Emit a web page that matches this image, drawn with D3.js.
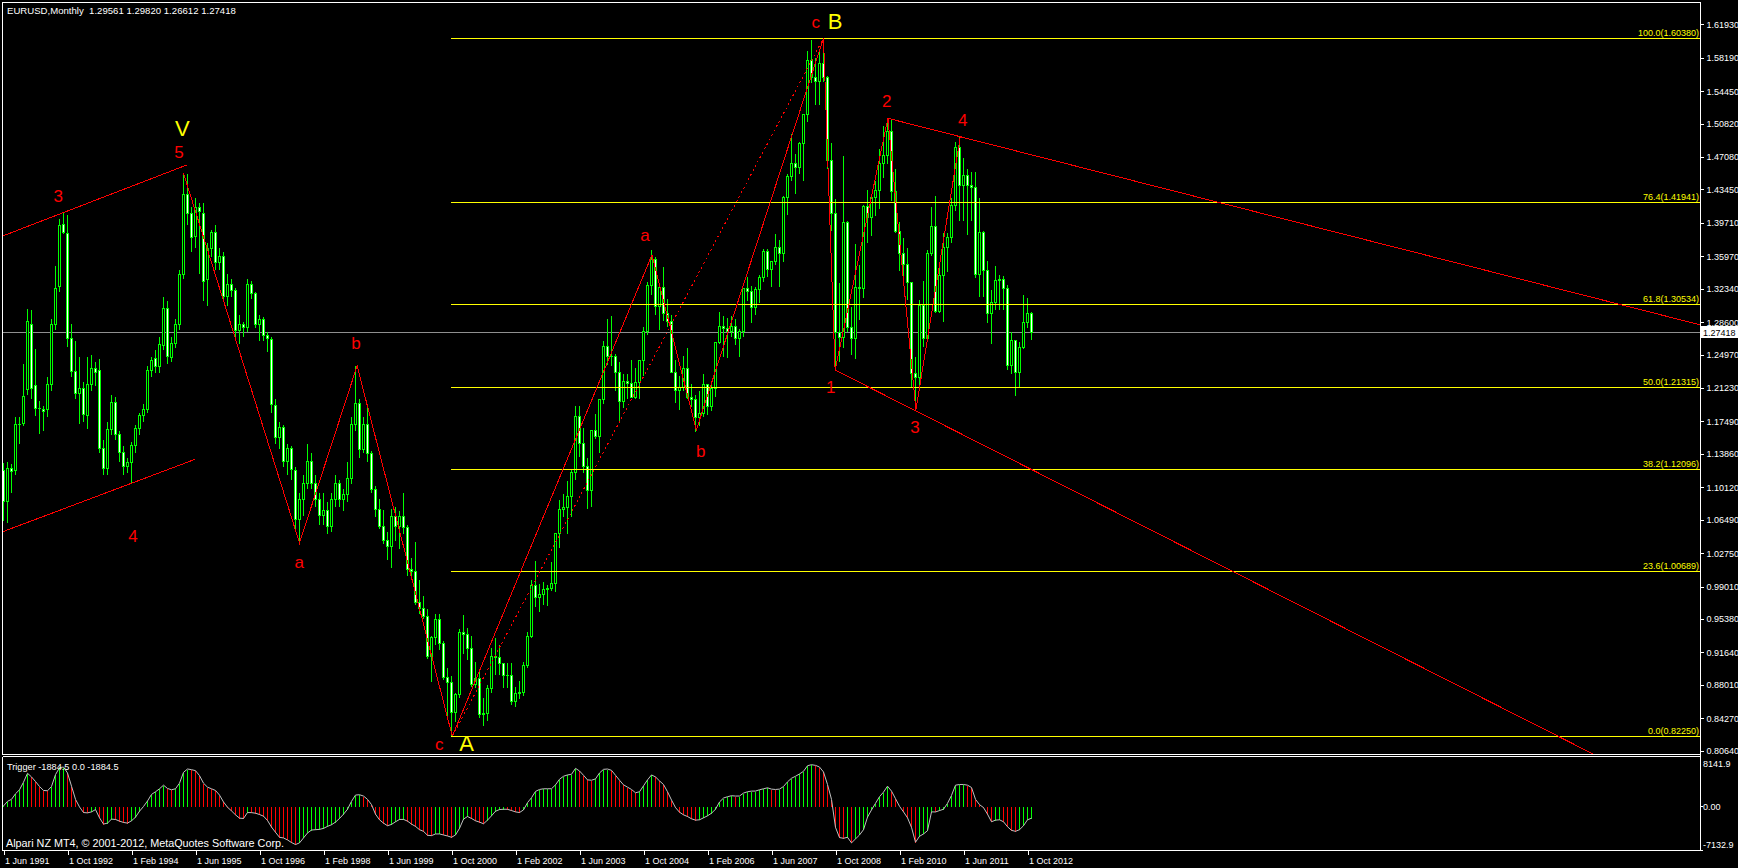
<!DOCTYPE html>
<html><head><meta charset="utf-8">
<script src="https://cdn.jsdelivr.net/npm/d3@7"></script>
<style>
html,body{margin:0;padding:0;background:#000;overflow:hidden}
svg{display:block}
text{font-family:"Liberation Sans",Arial,sans-serif}
</style></head><body>
<svg id="chart" width="1738" height="868"></svg>
<script>
// ---------------- DATA ----------------
const chartTitle = "EURUSD,Monthly  1.29561 1.29820 1.26612 1.27418";
const indicatorTitle = "Trigger -1884.5 0.0 -1884.5";
const brokerText = "Alpari NZ MT4, \u00A9 2001-2012, MetaQuotes Software Corp.";
const firstMonth = "1991-06"; // bar index 0 = Jun 1991, last bar = Nov 2012

const opens = [
1.1205,1.0850,1.1224,1.1200,1.1709,1.1728,1.2101,
1.2839,1.2149,1.1888,1.1880,1.1877,1.2164,1.2839,1.3257,1.3954,1.3854,1.2679,1.2305,
1.2063,1.2119,1.1813,1.2164,1.2336,1.2324,1.1448,1.1224,1.1653,1.1963,1.1597,1.1403,
1.1243,1.1291,1.1474,1.1672,1.1813,1.1877,1.2324,1.2448,1.2362,1.2604,1.3014,1.2466,
1.2623,1.2828,1.3395,1.4283,1.4078,1.3816,1.4141,1.4078,1.3332,1.3686,1.3865,1.3526,
1.3600,1.3145,1.3276,1.3212,1.2765,1.2839,1.2802,1.3283,1.3182,1.2839,1.2884,1.2716,
1.2668,1.1922,1.1571,1.1683,1.1299,1.1448,1.1205,1.0650,1.0870,1.1050,1.1300,1.1050,
1.0880,1.0700,1.0750,1.0570,1.0870,1.1050,1.0870,1.0930,1.1110,1.1710,1.1950,1.1440,
1.1710,1.1390,1.0990,1.0760,1.0570,1.0420,1.0350,1.0690,1.0570,1.0680,1.0560,1.0090,
1.0070,0.9720,0.9650,0.9570,0.9120,0.9330,0.9530,0.9260,0.8880,0.8830,0.8490,0.8690,
0.9390,0.9360,0.9210,0.8800,0.8870,0.8470,0.8480,0.8760,0.9120,0.9110,0.9040,0.8900,
0.8900,0.8610,0.8700,0.8720,0.9020,0.9340,0.9910,0.9780,0.9810,0.9870,0.9880,0.9930,
1.0490,1.0760,1.0790,1.0910,1.1180,1.1800,1.1500,1.1240,1.0980,1.1650,1.1580,1.1990,
1.2590,1.2470,1.2480,1.2300,1.1970,1.2200,1.2170,1.2020,1.2180,1.2430,1.2760,1.3270,
1.3560,1.3040,1.3250,1.2960,1.2870,1.2300,1.2100,1.2130,1.2340,1.2020,1.1990,1.1790,
1.1840,1.2160,1.1920,1.2120,1.2630,1.2810,1.2790,1.2760,1.2810,1.2680,1.2760,1.3240,
1.3200,1.3020,1.3230,1.3360,1.3650,1.3450,1.3540,1.3690,1.3630,1.4260,1.4490,1.4630,
1.4590,1.4860,1.5180,1.5790,1.5600,1.5550,1.5750,1.5600,1.4670,1.4080,1.2740,1.2690,
1.3970,1.2800,1.2680,1.3250,1.3240,1.4150,1.4030,1.4260,1.4330,1.4640,1.4720,1.4990,
1.4320,1.3870,1.3630,1.3510,1.3300,1.2280,1.2240,1.3050,1.2680,1.3630,1.3930,1.2980,
1.3380,1.3690,1.3810,1.4170,1.4810,1.4390,1.4500,1.4390,1.4370,1.3390,1.3860,1.3440,
1.2960,1.3080,1.3330,1.3340,1.3240,1.2370,1.2660,1.2300,1.2580,1.2860,1.29561];

const highs = [
1.1290,1.1300,1.1280,1.1802,1.1800,1.2399,1.3014,
1.3003,1.2560,1.1981,1.1930,1.2250,1.2900,1.3499,1.4022,1.4096,1.4059,1.2850,1.2660,
1.2481,1.2200,1.2474,1.2500,1.2420,1.2450,1.1550,1.1750,1.2050,1.2030,1.1650,1.1480,
1.1350,1.1520,1.1720,1.1850,1.1950,1.2380,1.2480,1.2550,1.2700,1.3150,1.3100,1.2700,
1.2900,1.3450,1.4525,1.4518,1.4150,1.4250,1.4200,1.4200,1.3750,1.3900,1.3950,1.3700,
1.3650,1.3400,1.3350,1.3250,1.2950,1.2870,1.3350,1.3330,1.3200,1.2950,1.2920,1.2750,
1.2700,1.2000,1.1750,1.1720,1.1500,1.1480,1.1250,1.0950,1.1150,1.1500,1.1400,1.1150,
1.0950,1.0950,1.0850,1.0950,1.1150,1.1100,1.1000,1.1300,1.1800,1.2371,1.2000,1.1800,
1.1900,1.1420,1.1030,1.0890,1.0760,1.0520,1.0780,1.0800,1.0750,1.0950,1.0600,1.0230,
1.0410,0.9980,0.9800,0.9650,0.9350,0.9600,0.9600,0.9300,0.9000,0.8900,0.8710,0.9430,
0.9590,0.9440,0.9350,0.9060,0.8970,0.8660,0.8800,0.9220,0.9330,0.9250,0.9050,0.9050,
0.9050,0.8780,0.8850,0.9060,0.9400,0.9980,1.0190,0.9930,0.9960,0.9920,1.0180,1.0500,
1.0880,1.0940,1.1090,1.1220,1.1930,1.1930,1.1680,1.1340,1.1660,1.1840,1.2000,1.2650,
1.2900,1.2930,1.2510,1.2420,1.2290,1.2290,1.2440,1.2350,1.2440,1.2810,1.3320,1.3670,
1.3590,1.3290,1.3480,1.3120,1.2940,1.2440,1.2260,1.2490,1.2580,1.2170,1.2050,1.2100,
1.2290,1.2170,1.2200,1.2640,1.2980,1.2930,1.2910,1.2930,1.2900,1.2790,1.3250,1.3370,
1.3270,1.3260,1.3390,1.3680,1.3680,1.3540,1.3850,1.3790,1.4280,1.4520,1.4970,1.4750,
1.4880,1.5200,1.5900,1.6020,1.5820,1.5910,1.6038,1.5620,1.4870,1.4240,1.3300,1.4720,
1.4000,1.3040,1.3740,1.3500,1.4180,1.4340,1.4300,1.4440,1.4800,1.5060,1.5144,1.5140,
1.4580,1.3990,1.3810,1.3690,1.3300,1.2470,1.3110,1.3330,1.3670,1.4150,1.4280,1.3500,
1.3860,1.3860,1.4250,1.4880,1.4940,1.4700,1.4580,1.4550,1.4550,1.4250,1.3880,1.3550,
1.3230,1.3490,1.3390,1.3380,1.3280,1.2750,1.2670,1.2640,1.3170,1.3140,1.29820];

const lows = [
1.0640,1.0620,1.0950,1.1150,1.1500,1.1700,1.2050,
1.2000,1.1817,1.1616,1.1650,1.1800,1.2100,1.2772,1.3200,1.3850,1.2586,1.2250,1.2000,
1.1728,1.1750,1.1672,1.2100,1.2150,1.1400,1.1150,1.1150,1.1600,1.1550,1.1300,1.1150,
1.1180,1.1056,1.1400,1.1600,1.1750,1.1850,1.2250,1.2300,1.2300,1.2550,1.2400,1.2420,
1.2580,1.2780,1.3350,1.3950,1.3650,1.3700,1.3400,1.3100,1.3050,1.3600,1.3450,1.3450,
1.3100,1.3050,1.3150,1.2700,1.2620,1.2700,1.2760,1.3120,1.2800,1.2650,1.2650,1.2530,
1.1850,1.1500,1.1450,1.1250,1.1150,1.1100,1.0550,1.0391,1.0700,1.1000,1.1000,1.0800,
1.0600,1.0600,1.0500,1.0520,1.0800,1.0800,1.0750,1.0850,1.1050,1.1650,1.1350,1.1400,
1.1300,1.0950,1.0680,1.0550,1.0380,1.0200,1.0110,1.0420,1.0330,1.0490,1.0020,1.0000,
0.9700,0.9600,0.9540,0.9100,0.8840,0.9250,0.9200,0.8860,0.8450,0.8225,0.8390,0.8660,
0.9150,0.9080,0.8780,0.8770,0.8440,0.8350,0.8400,0.8720,0.8920,0.8920,0.8770,0.8770,
0.8580,0.8560,0.8650,0.8680,0.9000,0.9330,0.9680,0.9620,0.9700,0.9690,0.9860,0.9850,
1.0340,1.0680,1.0500,1.0680,1.1100,1.1360,1.1180,1.0770,1.0800,1.1560,1.1400,1.1950,
1.2390,1.2370,1.2090,1.1760,1.1900,1.2000,1.2020,1.2000,1.2010,1.2260,1.2720,1.3170,
1.2950,1.2780,1.2880,1.2810,1.2300,1.1960,1.1880,1.2090,1.2000,1.1920,1.1640,1.1700,
1.1800,1.1830,1.1870,1.2030,1.2620,1.2480,1.2460,1.2700,1.2610,1.2480,1.2700,1.3100,
1.2860,1.2940,1.3080,1.3320,1.3370,1.3260,1.3500,1.3260,1.3540,1.4060,1.4440,1.4300,
1.4520,1.4440,1.5110,1.5540,1.5290,1.5300,1.5550,1.4580,1.3880,1.2330,1.2420,1.2580,
1.2760,1.2500,1.2450,1.2890,1.3140,1.3750,1.3830,1.4050,1.4130,1.4480,1.4640,1.4220,
1.3860,1.3440,1.3270,1.3110,1.2140,1.1876,1.2150,1.2590,1.2640,1.3610,1.2970,1.2970,
1.2870,1.3430,1.3750,1.4110,1.4000,1.4000,1.3840,1.4000,1.3360,1.3150,1.3150,1.2860,
1.2620,1.3000,1.3000,1.3000,1.2330,1.2280,1.2042,1.2130,1.2560,1.2800,1.26612];

const closes = [
1.0850,1.1224,1.1187,1.1709,1.1716,1.2026,1.2865,
1.2119,1.1888,1.1895,1.1858,1.2164,1.2839,1.3238,1.3947,1.3861,1.2679,1.2305,1.2063,
1.2119,1.1821,1.2164,1.2343,1.2298,1.1448,1.1224,1.1653,1.1963,1.1597,1.1399,1.1243,
1.1291,1.1474,1.1672,1.1813,1.1877,1.2324,1.2436,1.2362,1.2612,1.3014,1.2474,1.2623,
1.2828,1.3395,1.4283,1.4078,1.3809,1.4141,1.4096,1.3313,1.3686,1.3865,1.3526,1.3600,
1.3145,1.3276,1.3212,1.2765,1.2839,1.2802,1.3283,1.3182,1.2839,1.2884,1.2705,1.2679,
1.1940,1.1571,1.1683,1.1299,1.1448,1.1213,1.0650,1.0870,1.1050,1.1300,1.1050,1.0880,
1.0700,1.0750,1.0570,1.0870,1.1050,1.0870,1.0930,1.1110,1.1710,1.1950,1.1440,1.1710,
1.1390,1.0990,1.0760,1.0570,1.0420,1.0350,1.0690,1.0570,1.0680,1.0560,1.0090,1.0070,
0.9720,0.9650,0.9570,0.9120,0.9330,0.9530,0.9260,0.8880,0.8830,0.8490,0.8690,0.9390,
0.9360,0.9210,0.8800,0.8870,0.8470,0.8480,0.8760,0.9120,0.9110,0.9040,0.8900,0.8900,
0.8610,0.8700,0.8720,0.9020,0.9340,0.9910,0.9780,0.9810,0.9870,0.9880,0.9930,1.0490,
1.0760,1.0790,1.0910,1.1180,1.1800,1.1500,1.1240,1.0980,1.1650,1.1580,1.1990,1.2590,
1.2470,1.2480,1.2300,1.1970,1.2200,1.2170,1.2020,1.2180,1.2430,1.2760,1.3270,1.3560,
1.3040,1.3250,1.2960,1.2870,1.2300,1.2100,1.2130,1.2340,1.2020,1.1990,1.1790,1.1840,
1.2160,1.1920,1.2120,1.2630,1.2810,1.2790,1.2760,1.2810,1.2680,1.2760,1.3240,1.3200,
1.3020,1.3230,1.3360,1.3650,1.3450,1.3540,1.3690,1.3630,1.4260,1.4490,1.4630,1.4590,
1.4860,1.5180,1.5790,1.5600,1.5550,1.5750,1.5600,1.4670,1.4080,1.2740,1.2690,1.3970,
1.2800,1.2680,1.3250,1.3240,1.4150,1.4030,1.4260,1.4330,1.4640,1.4720,1.4990,1.4320,
1.3870,1.3630,1.3510,1.3300,1.2280,1.2240,1.3050,1.2680,1.3630,1.3930,1.2980,1.3380,
1.3690,1.3810,1.4170,1.4810,1.4390,1.4500,1.4390,1.4370,1.3390,1.3860,1.3440,1.2960,
1.3080,1.3330,1.3340,1.3240,1.2370,1.2660,1.2300,1.2580,1.2860,1.29561,1.27418];

// "Trigger" oscillator, one value per monthly bar
const trigger = [
107,858,1179,2090,2734,3966,5414,
4824,4074,3270,2626,2573,3270,5199,6325,6432,5467,3323,1179,
-54,-965,-1018,-858,-482,-1822,-2841,-2680,-2037,-2090,-2358,-2573,
-2680,-2305,-1715,-750,20,911,1983,2412,2894,3484,2948,2734,
2894,3806,5574,6110,6003,5842,5038,3806,3162,2894,2626,1876,
750,-107,-697,-1340,-1876,-1930,-965,-980,-1072,-1286,-1554,-2251,
-3323,-4181,-4985,-5092,-5414,-5842,-6164,-5896,-5092,-4288,-3806,-3752,
-3698,-3538,-3216,-2948,-2519,-1930,-1233,-429,858,1876,1930,1715,
1179,322,-1233,-2144,-2680,-3109,-2894,-2466,-2090,-2080,-2358,-2841,
-3216,-3752,-4020,-4663,-4717,-4449,-4440,-4610,-4770,-4985,-4610,-3538,
-2037,-1608,-1930,-2305,-2519,-2787,-2198,-1501,-750,-482,-429,-440,
-643,-858,-965,-536,643,1447,2466,2787,2894,2900,2905,3538,
4449,4931,5146,5253,6218,5789,5092,4342,4288,4502,5467,6057,
6110,5896,5092,4288,3538,3162,2787,2251,2412,3377,4342,5146,
4824,4181,3591,2412,1072,-161,-911,-1340,-1608,-1983,-2198,-2144,
-1822,-1501,-1072,-429,750,1394,1608,1769,1715,1720,2198,2412,
2519,2525,2734,2894,3055,2841,2787,2841,3270,4020,4610,4931,
5306,5735,6646,6807,6700,6432,5628,3591,1179,-3377,-5038,-5146,
-4985,-5896,-5253,-4610,-3752,-1715,-536,536,1608,2358,3323,2519,
1286,54,-858,-1822,-3377,-5789,-4824,-4449,-3913,-858,-870,-643,
-429,536,1822,3484,3591,3595,3484,3109,1179,322,-161,-1233,
-2466,-2198,-2144,-2466,-3270,-3859,-4020,-3752,-3109,-2144,-1884.5];

const priceTicks = [1.61930,1.58190,1.54450,1.50820,1.47080,1.43450,1.39710,1.35970,1.32340,
  1.28600,1.24970,1.21230,1.17490,1.13860,1.10120,1.06490,1.02750,0.99010,0.95380,0.91640,
  0.88010,0.84270,0.80640];
const dateTickIndex = [0,16,32,48,64,80,96,112,128,144,160,176,192,208,224,240,256];
const dateTickLabels = ["1 Jun 1991","1 Oct 1992","1 Feb 1994","1 Jun 1995","1 Oct 1996",
  "1 Feb 1998","1 Jun 1999","1 Oct 2000","1 Feb 2002","1 Jun 2003","1 Oct 2004","1 Feb 2006",
  "1 Jun 2007","1 Oct 2008","1 Feb 2010","1 Jun 2011","1 Oct 2012"];
const indicatorTickLabels = ["8141.9","0.00","-7132.9"];
const indicatorMax = 8141.9, indicatorMin = -7132.9;

const fibLevels = [100.0, 76.4, 61.8, 50.0, 38.2, 23.6, 0.0];
const fibPrices = [1.60380, 1.41941, 1.30534, 1.21315, 1.12096, 1.00689, 0.82250];
const fibStartBar = 111.9;
const lastPrice = 1.27418;

// Elliott wave drawings (bar index, price)
const leftUpperChannel = [{k:-0.2,p:1.3824},{k:45.85,p:1.4619}];
const leftLowerChannel = [{k:-0.4,p:1.0511},{k:47.9,p:1.1325}];
const zigzagABC1 = [{k:45.0,p:1.4526},{k:74.0,p:1.0389},{k:88.4,p:1.2371},{k:112.2,p:0.8225}];
const zigzagABC2 = [{k:112.2,p:0.8225},{k:162.1,p:1.3611},{k:173.2,p:1.1653},{k:205.0,p:1.6038}];
const dottedAB = [{k:112.2,p:0.8225},{k:205.0,p:1.6038}];
const zigzag1234 = [{k:205.0,p:1.6038},{k:207.9,p:1.2324},{k:221.1,p:1.5141},{k:228.1,p:1.1877},{k:239.2,p:1.4935}];
const trend24 = [{k:221.1,p:1.5141},{k:239.2,p:1.4935}];
const trend13 = [{k:207.9,p:1.2324},{k:228.1,p:1.1866}];

const waveLabels = [
  {t:"V",k:44.7,p:1.5029,big:true},{t:"5",k:43.9,p:1.4756},{t:"3",k:13.7,p:1.4264},
  {t:"4",k:32.4,p:1.0461},{t:"a",k:73.95,p:1.0165},{t:"b",k:88.1,p:1.2620},
  {t:"c",k:108.95,p:0.8128},{t:"A",k:115.8,p:0.8147,big:true},
  {t:"a",k:160.4,p:1.3835},{t:"b",k:174.3,p:1.1407},{t:"c",k:203.05,p:1.6211},
  {t:"B",k:207.9,p:1.6222,big:true},{t:"1",k:206.8,p:1.2131},{t:"2",k:220.8,p:1.5327},
  {t:"3",k:227.9,p:1.1683},{t:"4",k:239.8,p:1.5122}];

// ---------------- DRAW ----------------
const svg = d3.select("#chart");
const axisX = 1700, mainBottom = 754, indTop = 756, indBottom = 850;
const N = closes.length;

const x = d3.scaleLinear().domain([0, N - 1]).range([3.5, 3.5 + 4 * (N - 1)]);
const y = d3.scaleLinear().domain([0.80640, 1.61930]).range([750.7, 24.3]);
const yi = d3.scaleLinear().domain([indicatorMin, indicatorMax]).range([850.5, 756.5]);
const snap = v => Math.round(v - 0.5) + 0.5;

svg.append("rect").attr("width",1738).attr("height",868).attr("fill","#000");

const defs = svg.append("defs");
defs.append("clipPath").attr("id","clipMain").append("rect")
  .attr("x",3).attr("y",3).attr("width",axisX-3).attr("height",mainBottom-3);
defs.append("clipPath").attr("id","clipInd").append("rect")
  .attr("x",3).attr("y",indTop+1).attr("width",axisX-3).attr("height",indBottom-indTop-1);

const main = svg.append("g").attr("clip-path","url(#clipMain)");

// current price line
main.append("line").attr("x1",3).attr("x2",axisX).attr("y1",snap(y(lastPrice))).attr("y2",snap(y(lastPrice)))
  .attr("stroke","#8f8f8f").attr("stroke-width",1).attr("shape-rendering","crispEdges");

// candles
const candles = main.append("g").attr("shape-rendering","crispEdges");
const idx = d3.range(N);
candles.selectAll("line.wick").data(idx).join("line").attr("class","wick")
  .attr("x1",k=>x(k)).attr("x2",k=>x(k))
  .attr("y1",k=>snap(y(Math.max(highs[k],opens[k],closes[k]))))
  .attr("y2",k=>snap(y(Math.min(lows[k],opens[k],closes[k]))))
  .attr("stroke","#00ff00").attr("stroke-width",1);
candles.selectAll("rect.body").data(idx).join("rect").attr("class","body")
  .attr("x",k=>x(k)-1).attr("width",2)
  .attr("y",k=>snap(y(Math.max(opens[k],closes[k]))))
  .attr("height",k=>Math.max(0.01, snap(y(Math.min(opens[k],closes[k]))) - snap(y(Math.max(opens[k],closes[k])))))
  .attr("fill",k=>closes[k] >= opens[k] ? "#000" : "#fff")
  .attr("stroke","#00ff00").attr("stroke-width",1);

// fibonacci levels
const fibG = main.append("g");
fibG.selectAll("line").data(fibPrices).join("line")
  .attr("x1",x(fibStartBar)).attr("x2",axisX)
  .attr("y1",p=>snap(y(p))).attr("y2",p=>snap(y(p)))
  .attr("stroke","#ffff00").attr("stroke-width",1).attr("shape-rendering","crispEdges");
fibG.selectAll("text").data(fibPrices).join("text")
  .attr("x",axisX-1).attr("y",p=>snap(y(p))-2.5).attr("text-anchor","end")
  .attr("font-size",9).attr("fill","#ffff00")
  .text((p,i)=>fibLevels[i].toFixed(1)+"("+p.toFixed(5)+")");

// red wave lines
const line = d3.line().x(d=>x(d.k)).y(d=>y(d.p));
const kRight = x.invert(axisX);
function extend(a,b,kEnd){ const s=(b.p-a.p)/(b.k-a.k); return [a,{k:kEnd,p:a.p+s*(kEnd-a.k)}]; }
const red = main.append("g").attr("fill","none").attr("stroke","#ff0000").attr("stroke-width",1)
  .attr("shape-rendering","crispEdges");
[leftUpperChannel,leftLowerChannel,zigzagABC1,zigzagABC2,zigzag1234,
 extend(trend24[0],trend24[1],kRight), extend(trend13[0],trend13[1],kRight)]
  .forEach(pts=>red.append("path").attr("d",line(pts)));
red.append("path").attr("d",line(dottedAB)).attr("stroke-dasharray","2,3");

// wave labels
main.append("g").selectAll("text").data(waveLabels).join("text")
  .attr("x",d=>x(d.k)).attr("y",d=>y(d.p)).attr("text-anchor","middle")
  .attr("dominant-baseline","central")
  .attr("font-size",d=>d.big?22:17).attr("fill",d=>d.big?"#ffff00":"#ff0000")
  .text(d=>d.t);

// title
svg.append("text").attr("x",7).attr("y",14).attr("font-size",9.6).attr("fill","#fff")
  .style("white-space","pre").text(chartTitle);

// indicator panel
const ind = svg.append("g").attr("clip-path","url(#clipInd)");
ind.append("g").attr("shape-rendering","crispEdges").selectAll("line").data(idx).join("line")
  .attr("x1",k=>x(k)).attr("x2",k=>x(k))
  .attr("y1",snap(yi(0))).attr("y2",k=>snap(yi(trigger[k])))
  .attr("stroke",k=> (k>0 && trigger[k] < trigger[k-1]) ? "#ff0000" : "#00ff00");
ind.append("path").attr("d",d3.line().x((v,k)=>x(k)).y(v=>yi(v))(trigger))
  .attr("fill","none").attr("stroke","#c0c0c0").attr("stroke-width",1);
svg.append("text").attr("x",7).attr("y",770).attr("font-size",9.2).attr("fill","#fff").text(indicatorTitle);
svg.append("text").attr("x",6).attr("y",846.5).attr("font-size",10.8).attr("fill","#fff").text(brokerText);

// price axis
const yAxis = d3.axisRight(y).tickValues(priceTicks).tickFormat(d3.format(".5f")).tickSize(3).tickPadding(3);
const ya = svg.append("g").attr("transform",`translate(${axisX+0.5},0)`).call(yAxis);
ya.select(".domain").remove();
ya.selectAll("line").attr("stroke","#fff").attr("shape-rendering","crispEdges");
ya.selectAll("text").attr("fill","#fff").attr("font-size",9).attr("font-family","Liberation Sans, Arial, sans-serif");

// current price box
const lp = snap(y(lastPrice));
svg.append("rect").attr("x",1701).attr("y",lp-6.5).attr("width",37).attr("height",12).attr("fill","#fff");
svg.append("text").attr("x",1703).attr("y",lp+3.5).attr("font-size",9).attr("fill","#000").text(lastPrice.toFixed(5));

// indicator axis
const indTickY = [767, 810, 848];
svg.append("g").selectAll("text").data(indicatorTickLabels).join("text")
  .attr("x",1703).attr("y",(d,i)=>indTickY[i]).attr("font-size",9).attr("fill","#fff").text(d=>d);
svg.append("g").attr("stroke","#fff").attr("shape-rendering","crispEdges").selectAll("line")
  .data([yi(0), indBottom]).join("line")
  .attr("x1",axisX).attr("x2",axisX+3).attr("y1",d=>snap(d)).attr("y2",d=>snap(d));

// time axis
const xAxis = d3.axisBottom(x).tickValues(dateTickIndex).tickFormat((d,i)=>dateTickLabels[i]).tickSize(4).tickPadding(3);
const xa = svg.append("g").attr("transform",`translate(0,${indBottom+0.5})`).call(xAxis);
xa.select(".domain").remove();
xa.selectAll("line").attr("stroke","#fff").attr("shape-rendering","crispEdges");
xa.selectAll("text").attr("fill","#fff").attr("font-size",9).attr("text-anchor","start").attr("x",1)
  .attr("font-family","Liberation Sans, Arial, sans-serif");

// frames
const fr = svg.append("g").attr("stroke","#fff").attr("stroke-width",1).attr("fill","none").attr("shape-rendering","crispEdges");
fr.append("path").attr("d",`M2.5,${mainBottom+0.5}V2.5H${axisX+0.5}V${indBottom+0.5}`);
fr.append("path").attr("d",`M2.5,${mainBottom+0.5}H${axisX+0.5}`);
fr.append("path").attr("d",`M2.5,${indTop+0.5}H${axisX+0.5}M2.5,${indTop+0.5}V${indBottom+0.5}H${axisX+0.5}`);
</script>
</body></html>
